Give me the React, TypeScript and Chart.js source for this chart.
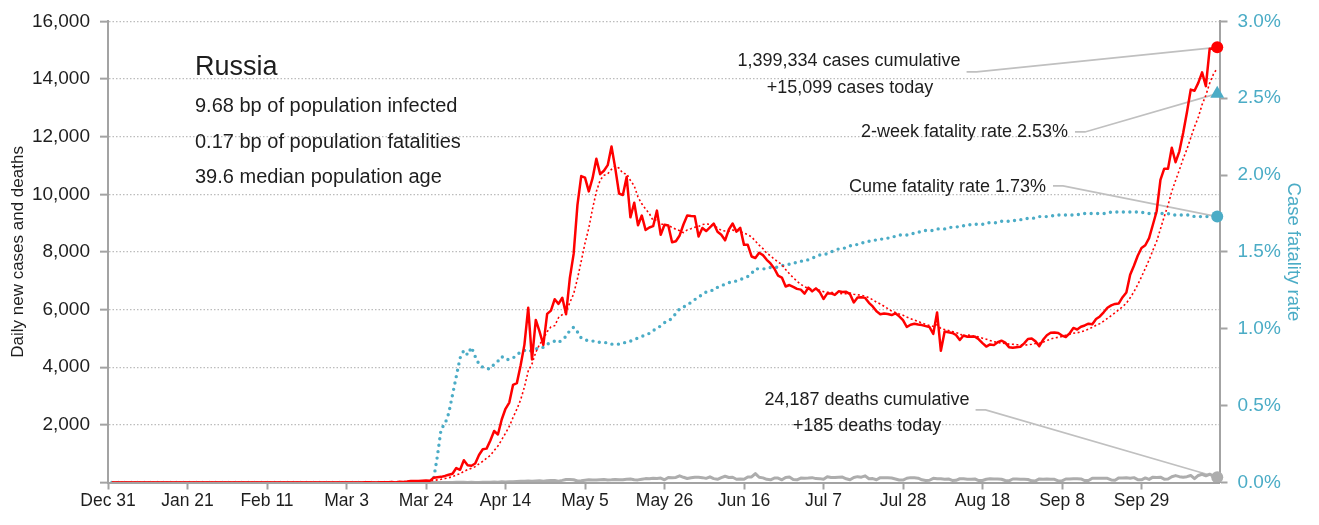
import React, { useEffect, useRef } from 'react';
import { Chart, registerables } from 'chart.js';

Chart.register(...registerables);

// ---------- styling constants ----------
const FONT = '"Liberation Sans", Arial, "DejaVu Sans", sans-serif';
const TEXT = '#1e1e1e';
const AXIS_GRAY = '#a3a3a3';
const GRID_GRAY = '#bcbcbc';
const LEADER_GRAY = '#c0c0c0';
const BLUE = '#4bacc6';
const RED = '#ff0000';
const DEATH_GRAY = '#adadad';

// ---------- axes ----------
const X_TICK_LABELS = ['Dec 31', 'Jan 21', 'Feb 11', 'Mar 3', 'Mar 24', 'Apr 14', 'May 5', 'May 26', 'Jun 16', 'Jul 7', 'Jul 28', 'Aug 18', 'Sep 8', 'Sep 29'];
const X_TICK_STEP = 21; // days between date ticks
const SERIES_START_DAY = 1; // first value (Dec 31 report) sits one day after the Dec 31 tick
const X_AXIS_MAX = 293.6;
const Y_LEFT_MAX = 16000;
const Y_LEFT_STEP = 2000;
const Y_RIGHT_MAX = 3;
const Y_RIGHT_STEP = 0.5;

// ---------- text ----------
const COUNTRY = 'Russia';
const STATS_LINES = ['9.68 bp of population infected', '0.17 bp of population fatalities', '39.6 median population age'];
const CASES_CUMULATIVE = '1,399,334';
const CASES_TODAY = '15,099';
const DEATHS_CUMULATIVE = '24,187';
const DEATHS_TODAY = '185';
const TWO_WEEK_CFR = 2.53;
const CUME_CFR = 1.73;
const Y_LEFT_TITLE = 'Daily new cases and deaths';
const Y_RIGHT_TITLE = 'Case fatality rate';

// ---------- shared empty months ----------
const ZERO_DEC31 = [0];
const ZERO_JAN = [0, 0, 0, 0, 0, 0, 0, 0, 0, 0, 0, 0, 0, 0, 0, 0, 0, 0, 0, 0, 0, 0, 0, 0, 0, 0, 0, 0, 0, 0, 0];
const ZERO_FEB = [0, 0, 0, 0, 0, 0, 0, 0, 0, 0, 0, 0, 0, 0, 0, 0, 0, 0, 0, 0, 0, 0, 0, 0, 0, 0, 0, 0, 0];

// ---------- daily new cases ----------
const casesJan = [0, 0, 0, 0, 0, 0, 0, 0, 0, 0, 0, 0, 0, 0, 0, 0, 0, 0, 0, 0, 0, 0, 0, 0, 0, 0, 0, 0, 0, 0, 2];
const casesMar = [0, 1, 0, 0, 0, 1, 6, 7, 0, 3, 8, 6, 11, 14, 4, 30, 21, 33, 52, 54, 53, 61, 71, 57, 163, 182, 196, 228, 270, 302, 501];
const casesApr = [440, 771, 601, 582, 658, 954, 1154, 1175, 1459, 1786, 1667, 2186, 2558, 2774, 3388, 3448, 4070, 4785, 6060, 4268, 5642, 5236, 4774, 5849, 5966, 6361, 6198, 6411, 5841, 7099];
const casesMay = [7933, 9623, 10633, 10581, 10102, 10559, 11231, 10699, 10817, 11012, 11656, 10899, 10028, 9974, 10598, 9200, 9709, 8926, 9263, 8764, 8849, 8894, 9434, 8599, 8946, 8915, 8338, 8371, 8572, 8952, 9268];
const casesJun = [9250, 9240, 8536, 8831, 8726, 8855, 8984, 8700, 8595, 8404, 8779, 8987, 8706, 8835, 8246, 8248, 7843, 7790, 7972, 7889, 7728, 7600, 7425, 7176, 7113, 6800, 6852, 6791, 6719, 6693];
const casesJul = [6556, 6760, 6632, 6736, 6611, 6368, 6562, 6562, 6509, 6635, 6611, 6615, 6537, 6248, 6422, 6428, 6406, 6234, 6109, 5940, 5842, 5862, 5848, 5811, 5871, 5765, 5635, 5395, 5475, 5509, 5482];
const casesAug = [5462, 5427, 5394, 5159, 5900, 4571, 5241, 5212, 5189, 5118, 4945, 5102, 5057, 5065, 5061, 4969, 4839, 4718, 4790, 4767, 4870, 4921, 4852, 4696, 4676, 4696, 4711, 4829, 4980, 4993, 4897];
const casesSep = [4729, 4952, 5110, 5195, 5205, 5185, 5099, 5048, 5172, 5363, 5310, 5406, 5449, 5509, 5488, 5670, 5762, 5905, 6065, 6148, 6196, 6215, 6431, 6595, 7212, 7523, 7867, 8135, 8232, 8481];
const casesOct = [8945, 9412, 10499, 10888, 10888, 11615, 11115, 11493, 12126, 12846, 13634, 13592, 13868, 14231, 13754, 15050, 15050, 15099];

// ---------- 7-day average of new cases (dotted red) ----------
const avgMar = [0, 0, 0, 0, 0, 0, 1, 2, 2, 2, 4, 4, 6, 7, 7, 11, 13, 17, 24, 30, 35, 43, 49, 54, 73, 92, 112, 137, 167, 200, 263];
const avgApr = [303, 387, 445, 495, 551, 644, 737, 842, 940, 1110, 1265, 1483, 1712, 1944, 2260, 2544, 2870, 3316, 3869, 4113, 4523, 4787, 4976, 5231, 5399, 5442, 5718, 5828, 5914, 6246];
const avgMay = [6544, 7067, 7677, 8303, 8830, 9504, 10095, 10490, 10660, 10714, 10868, 10982, 10906, 10726, 10712, 10481, 10295, 9905, 9671, 9491, 9330, 9086, 9120, 8961, 8964, 8914, 8854, 8785, 8739, 8670, 8766];
const avgJun = [8809, 8856, 8884, 8950, 8972, 8958, 8917, 8839, 8747, 8728, 8720, 8758, 8736, 8715, 8650, 8601, 8521, 8379, 8234, 8118, 7959, 7867, 7750, 7654, 7558, 7390, 7242, 7108, 6982, 6878];
const avgJul = [6789, 6739, 6715, 6698, 6672, 6622, 6604, 6604, 6569, 6569, 6551, 6552, 6576, 6531, 6511, 6499, 6467, 6413, 6341, 6255, 6197, 6117, 6034, 5949, 5898, 5848, 5805, 5741, 5686, 5637, 5590];
const avgAug = [5532, 5484, 5449, 5415, 5476, 5342, 5308, 5272, 5238, 5199, 5168, 5054, 5123, 5098, 5077, 5045, 5005, 4973, 4928, 4887, 4859, 4839, 4822, 4802, 4796, 4783, 4775, 4769, 4777, 4797, 4826];
const avgSep = [4834, 4870, 4927, 4979, 5012, 5039, 5068, 5113, 5145, 5181, 5197, 5226, 5264, 5322, 5385, 5456, 5513, 5598, 5693, 5792, 5891, 5994, 6103, 6222, 6409, 6617, 6863, 7140, 7428, 7721];
const avgOct = [8056, 8371, 8796, 9227, 9621, 10104, 10480, 10844, 11232, 11567, 11960, 12346, 12668, 13113, 13436, 13854, 14168, 14378];

// ---------- daily deaths ----------
const deathsMar = [0, 0, 0, 0, 0, 0, 0, 0, 0, 0, 0, 0, 0, 0, 0, 0, 0, 0, 0, 0, 0, 0, 0, 0, 1, 2, 1, 0, 4, 1, 8];
const deathsApr = [7, 6, 4, 9, 2, 2, 11, 5, 13, 18, 12, 24, 18, 22, 28, 34, 41, 40, 48, 44, 51, 57, 42, 60, 66, 66, 47, 73, 105, 101];
const deathsMay = [96, 53, 58, 76, 95, 86, 88, 98, 104, 88, 94, 107, 96, 93, 113, 119, 94, 91, 115, 135, 127, 150, 139, 153, 92, 174, 161, 174, 232, 181, 138];
const deathsJun = [162, 182, 178, 169, 144, 197, 134, 112, 171, 216, 174, 181, 113, 119, 109, 193, 194, 310, 181, 161, 109, 95, 153, 154, 92, 176, 188, 104, 93, 154];
const deathsJul = [147, 154, 168, 135, 134, 111, 198, 173, 174, 186, 188, 130, 95, 175, 203, 186, 232, 130, 137, 94, 169, 165, 161, 154, 122, 85, 85, 147, 169, 161, 150];
const deathsAug = [95, 70, 77, 144, 129, 129, 114, 125, 70, 77, 130, 129, 114, 110, 121, 68, 70, 114, 129, 121, 119, 114, 68, 60, 122, 121, 117, 111, 103, 57, 56];
const deathsSep = [123, 117, 119, 112, 110, 53, 56, 122, 122, 128, 129, 122, 67, 69, 150, 144, 150, 144, 145, 90, 81, 160, 160, 164, 150, 169, 99, 92, 160, 108];
const deathsOct = [186, 177, 186, 117, 119, 201, 239, 202, 186, 202, 244, 132, 244, 286, 232, 286, 232, 185];

// ---------- cumulative case fatality rate, % (right axis) ----------
const cfrMar = [0, 0, 0, 0, 0, 0, 0, 0, 0, 0, 0, 0, 0, 0, 0, 0, 0, 0, 0, 0, 0, 0, 0, 0, 0.02, 0.17, 0.35, 0.38, 0.45, 0.57, 0.69];
const cfrApr = [0.81, 0.86, 0.83, 0.88, 0.82, 0.77, 0.75, 0.74, 0.74, 0.77, 0.79, 0.82, 0.8, 0.8, 0.81, 0.83, 0.85, 0.86, 0.85, 0.86, 0.87, 0.87, 0.88, 0.9, 0.91, 0.92, 0.91, 0.93, 0.95, 0.99];
const cfrMay = [1.01, 0.98, 0.94, 0.93, 0.92, 0.92, 0.92, 0.91, 0.91, 0.91, 0.9, 0.9, 0.9, 0.91, 0.91, 0.92, 0.93, 0.94, 0.95, 0.96, 0.97, 0.99, 1.0, 1.02, 1.04, 1.05, 1.07, 1.1, 1.13, 1.14, 1.16];
const cfrJun = [1.17, 1.19, 1.21, 1.22, 1.24, 1.25, 1.25, 1.27, 1.28, 1.29, 1.3, 1.31, 1.31, 1.32, 1.33, 1.34, 1.36, 1.39, 1.39, 1.39, 1.39, 1.4, 1.4, 1.4, 1.41, 1.42, 1.42, 1.43, 1.43, 1.44];
const cfrJul = [1.44, 1.45, 1.46, 1.47, 1.48, 1.48, 1.49, 1.5, 1.51, 1.52, 1.52, 1.53, 1.54, 1.54, 1.55, 1.56, 1.56, 1.57, 1.57, 1.58, 1.58, 1.59, 1.59, 1.6, 1.6, 1.61, 1.61, 1.61, 1.62, 1.62, 1.63];
const cfrAug = [1.63, 1.64, 1.64, 1.64, 1.65, 1.65, 1.65, 1.66, 1.66, 1.66, 1.67, 1.67, 1.67, 1.68, 1.68, 1.68, 1.68, 1.69, 1.69, 1.69, 1.69, 1.7, 1.7, 1.7, 1.7, 1.71, 1.71, 1.71, 1.72, 1.72, 1.72];
const cfrSep = [1.73, 1.73, 1.73, 1.73, 1.74, 1.74, 1.74, 1.74, 1.74, 1.74, 1.74, 1.75, 1.75, 1.75, 1.75, 1.75, 1.75, 1.75, 1.75, 1.76, 1.76, 1.76, 1.76, 1.76, 1.76, 1.76, 1.76, 1.76, 1.75, 1.75];
const cfrOct = [1.75, 1.75, 1.75, 1.75, 1.75, 1.74, 1.74, 1.74, 1.74, 1.74, 1.74, 1.73, 1.73, 1.73, 1.73, 1.73, 1.73, 1.73];

const cases = [...ZERO_DEC31, ...casesJan, ...ZERO_FEB, ...casesMar, ...casesApr, ...casesMay, ...casesJun, ...casesJul, ...casesAug, ...casesSep, ...casesOct];
const casesAvg = [...ZERO_DEC31, ...ZERO_JAN, ...ZERO_FEB, ...avgMar, ...avgApr, ...avgMay, ...avgJun, ...avgJul, ...avgAug, ...avgSep, ...avgOct];
const deaths = [...ZERO_DEC31, ...ZERO_JAN, ...ZERO_FEB, ...deathsMar, ...deathsApr, ...deathsMay, ...deathsJun, ...deathsJul, ...deathsAug, ...deathsSep, ...deathsOct];
const cfr = [...ZERO_DEC31, ...ZERO_JAN, ...ZERO_FEB, ...cfrMar, ...cfrApr, ...cfrMay, ...cfrJun, ...cfrJul, ...cfrAug, ...cfrSep, ...cfrOct];

const toPoints = (arr: number[]) => arr.map((v, i) => ({ x: i + SERIES_START_DAY, y: v }));
const LAST_DAY = cases.length - 1 + SERIES_START_DAY;

const font = (size: number) => `${size}px ${FONT}`;

const notesPlugin = {
  id: 'notes',
  beforeDatasetsDraw(chart: any) {
    const { ctx, chartArea: a, scales } = chart;
    const xPix = scales.x.getPixelForValue(LAST_DAY);
    const yL = scales.y;
    const yR = scales.y1;
    ctx.save();
    ctx.strokeStyle = LEADER_GRAY;
    ctx.lineWidth = 1.6;
    const leader = (x0: number, y0: number, x1: number, y1: number) => {
      ctx.beginPath();
      ctx.moveTo(x0, y0);
      ctx.lineTo(x0 + 10, y0);
      ctx.lineTo(x1, y1);
      ctx.stroke();
    };
    ctx.font = font(18);
    const casesW = ctx.measureText(`${CASES_CUMULATIVE} cases cumulative`).width;
    leader(a.left + 741 + casesW / 2 + 6, a.top + 50.5, xPix, yL.getPixelForValue(cases[cases.length - 1]));
    leader(a.left + 960 + 7, a.top + 110.5, xPix, yR.getPixelForValue(TWO_WEEK_CFR));
    leader(a.left + 938 + 7, a.top + 164.5, xPix, yR.getPixelForValue(CUME_CFR));
    const deathsW = ctx.measureText(`${DEATHS_CUMULATIVE} deaths cumulative`).width;
    leader(a.left + 759 + deathsW / 2 + 6, a.top + 388.5, xPix, yL.getPixelForValue(deaths[deaths.length - 1]));
    ctx.restore();
  },
  afterDraw(chart: any) {
    const { ctx, chartArea: a } = chart;
    ctx.save();
    ctx.fillStyle = TEXT;
    ctx.textBaseline = 'middle';
    ctx.textAlign = 'left';
    ctx.font = font(27);
    ctx.fillText(COUNTRY, a.left + 87, a.top + 46.5);
    ctx.font = font(20);
    STATS_LINES.forEach((t, i) => ctx.fillText(t, a.left + 87, a.top + 85.5 + i * 35.5));

    ctx.font = font(18);
    ctx.textAlign = 'center';
    ctx.fillText(`${CASES_CUMULATIVE} cases cumulative`, a.left + 741, a.top + 39.5);
    ctx.fillText(`+${CASES_TODAY} cases today`, a.left + 742, a.top + 66.5);
    ctx.fillText(`${DEATHS_CUMULATIVE} deaths cumulative`, a.left + 759, a.top + 378.5);
    ctx.fillText(`+${DEATHS_TODAY} deaths today`, a.left + 759, a.top + 404.5);
    ctx.textAlign = 'right';
    ctx.fillText(`2-week fatality rate ${TWO_WEEK_CFR.toFixed(2)}%`, a.left + 960, a.top + 110.5);
    ctx.fillText(`Cume fatality rate ${CUME_CFR.toFixed(2)}%`, a.left + 938, a.top + 165.5);
    ctx.restore();
  },
};

export default function App() {
  const ref = useRef<HTMLCanvasElement>(null);

  useEffect(() => {
    if (!ref.current) return;
    const marker = (y: number, color: string, axis: string, style = 'circle', radius = 6) => ({
      type: 'line' as const,
      data: [{ x: LAST_DAY, y }],
      yAxisID: axis,
      showLine: false,
      pointStyle: style,
      pointRadius: radius,
      pointBackgroundColor: color,
      pointBorderColor: color,
      pointBorderWidth: 0,
      clip: false as any,
    });
    const chart = new Chart(ref.current, {
      type: 'line',
      data: {
        datasets: [
          marker(cases[cases.length - 1], RED, 'y'),
          marker(TWO_WEEK_CFR, BLUE, 'y1', 'triangle', 8),
          marker(CUME_CFR, BLUE, 'y1'),
          marker(deaths[deaths.length - 1], DEATH_GRAY, 'y'),
          {
            data: toPoints(cases),
            yAxisID: 'y',
            borderColor: RED,
            borderWidth: 2.5,
            pointRadius: 0,
            borderJoinStyle: 'round',
          },
          {
            data: toPoints(casesAvg),
            yAxisID: 'y',
            borderColor: RED,
            borderWidth: 1.6,
            borderDash: [2, 2.5],
            pointRadius: 0,
          },
          {
            data: toPoints(deaths),
            yAxisID: 'y',
            borderColor: DEATH_GRAY,
            borderWidth: 3,
            pointRadius: 0,
            borderJoinStyle: 'round',
          },
          {
            data: toPoints(cfr),
            yAxisID: 'y1',
            borderColor: BLUE,
            borderWidth: 3.4,
            borderDash: [0, 6.5],
            borderCapStyle: 'round',
            pointRadius: 0,
          },
        ] as any,
      },
      options: {
        animation: false,
        responsive: false,
        maintainAspectRatio: false,
        layout: { padding: { top: 19.5, left: 0, right: 0, bottom: 0 } },
        plugins: { legend: { display: false }, tooltip: { enabled: false } },
        scales: {
          x: {
            type: 'linear',
            min: 0,
            max: X_AXIS_MAX,
            afterBuildTicks: (s: any) => {
              s.ticks = X_TICK_LABELS.map((_, i) => ({ value: i * X_TICK_STEP }));
            },
            afterFit: (s: any) => {
              s.height = 42.5;
            },
            ticks: {
              callback: (v: any) => X_TICK_LABELS[Math.round(Number(v) / X_TICK_STEP)] ?? '',
              color: TEXT,
              font: { family: FONT, size: 17.5 },
              maxRotation: 0,
              autoSkip: false,
              padding: 1,
            },
            grid: { drawOnChartArea: false, drawTicks: true, tickLength: 7, tickColor: AXIS_GRAY, tickWidth: 2 },
            border: { color: AXIS_GRAY, width: 2, z: 1 },
          },
          y: {
            position: 'left',
            min: 0,
            max: Y_LEFT_MAX,
            afterFit: (s: any) => {
              s.width = 108;
            },
            ticks: {
              stepSize: Y_LEFT_STEP,
              callback: (v: any) => (Number(v) === 0 ? '' : Number(v).toLocaleString('en-US')),
              color: TEXT,
              font: { family: FONT, size: 19 },
              padding: 10,
            },
            grid: { color: GRID_GRAY, lineWidth: 1.3, tickLength: 8, tickColor: AXIS_GRAY, tickWidth: 2, tickBorderDash: [] },
            border: { color: AXIS_GRAY, width: 2, dash: [1.5, 2] },
            title: {
              display: true,
              text: Y_LEFT_TITLE,
              color: TEXT,
              font: { family: FONT, size: 17 },
              padding: { top: 8, bottom: 0 },
            },
          },
          y1: {
            position: 'right',
            min: 0,
            max: Y_RIGHT_MAX,
            afterFit: (s: any) => {
              s.width = 99.5;
            },
            ticks: {
              stepSize: Y_RIGHT_STEP,
              callback: (v: any) => `${Number(v).toFixed(1)}%`,
              color: BLUE,
              font: { family: FONT, size: 19 },
              padding: 10,
            },
            grid: { drawOnChartArea: false, tickLength: 8, tickColor: AXIS_GRAY, tickWidth: 2 },
            border: { color: AXIS_GRAY, width: 2 },
            title: {
              display: true,
              text: Y_RIGHT_TITLE,
              color: BLUE,
              font: { family: FONT, size: 18.5 },
              padding: { top: 15, bottom: 0 },
            },
          },
        },
      } as any,
      plugins: [notesPlugin],
    });
    return () => chart.destroy();
  }, []);

  return (
    <div style={{ position: 'fixed', left: 0, top: 0, width: 1319, height: 525, background: '#fff' }}>
      <canvas ref={ref} width={1319} height={525} style={{ display: 'block', width: 1319, height: 525 }} />
    </div>
  );
}
